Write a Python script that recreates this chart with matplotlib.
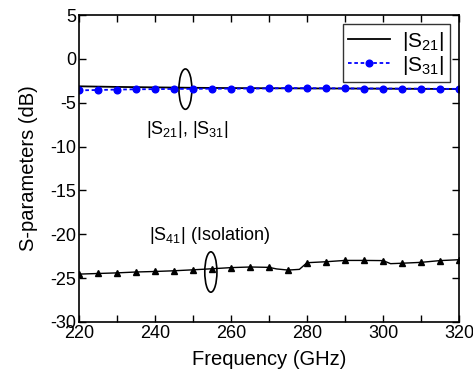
import matplotlib
matplotlib.use("Agg")
import matplotlib.pyplot as plt
from matplotlib.patches import Ellipse
from matplotlib.ticker import MultipleLocator

plt.rcParams['font.family'] = ['Liberation Sans', 'DejaVu Sans']
plt.rcParams['mathtext.default'] = 'regular'
plt.rcParams['axes.unicode_minus'] = False

freq_s21 = [220, 230, 240, 250, 260, 270, 280, 290, 300, 310, 320]
s21 = [-3.13, -3.2, -3.25, -3.3, -3.33, -3.35, -3.37, -3.38, -3.4, -3.42, -3.44]

freq_s31 = [220, 225, 230, 235, 240, 245, 250, 255, 260, 265, 270, 275, 280,
            285, 290, 295, 300, 305, 310, 315, 320]
s31 = [-3.59, -3.55, -3.5, -3.47, -3.45, -3.43, -3.42, -3.4, -3.4, -3.38, -3.37,
       -3.33, -3.35, -3.35, -3.37, -3.38, -3.38, -3.4, -3.4, -3.42, -3.42]

freq_s41 = [220, 225, 230, 235, 240, 245, 250, 255, 260, 265, 270, 272, 275,
            278, 280, 285, 290, 295, 300, 302, 305, 310, 315, 320]
s41 = [-24.54, -24.47, -24.4, -24.3, -24.24, -24.16, -24.05, -23.93, -23.8,
       -23.73, -23.77, -23.95, -24.08, -24.0, -23.24, -23.13, -22.98, -22.98,
       -23.0, -23.35, -23.3, -23.2, -23.0, -22.9]
s41_marker_freqs = list(range(220, 321, 5))

fig = plt.figure(figsize=(4.73, 3.83), dpi=100)
ax = fig.add_axes([79/473, 1 - 322/383, (459-79)/473, (322-15)/383])

ax.plot(freq_s21, s21, color='black', lw=1.3, label='|S$_{21}$|')
ax.plot(freq_s31, s31, color='blue', lw=1.3, ls=(0, (2, 1.5)), marker='o',
        ms=4.8, label='|S$_{31}$|')
mk = [i for i, f in enumerate(freq_s41) if f in s41_marker_freqs]
ax.plot(freq_s41, s41, color='black', lw=1.0, marker='^', ms=4.8, markevery=mk)

ax.add_patch(Ellipse((248, -3.45), 3.4, 4.6, fill=False, ec='black', lw=1.2))
ax.add_patch(Ellipse((254.7, -24.3), 3.2, 4.6, fill=False, ec='black', lw=1.2))

ax.text(248.4, -8.1, '|S$_{21}$|, |S$_{31}$|', ha='center', va='center', fontsize=13)
ax.text(254.3, -20.1, '|S$_{41}$| (Isolation)', ha='center', va='center', fontsize=13)

ax.set_xlim(220, 320)
ax.set_ylim(-30, 5)
ax.xaxis.set_major_locator(MultipleLocator(20))
ax.xaxis.set_minor_locator(MultipleLocator(10))
ax.yaxis.set_major_locator(MultipleLocator(5))
ax.tick_params(which='both', direction='in', top=True, right=True, labelsize=13, width=1)
ax.tick_params(which='major', length=5, pad=2)
ax.tick_params(which='minor', length=5)
for s in ax.spines.values():
    s.set_linewidth(1.2)

ax.set_xlabel('Frequency (GHz)', fontsize=14.5, labelpad=6)
ax.set_ylabel('S-parameters (dB)', fontsize=14.5, labelpad=9)

leg = ax.legend(loc='upper right', fontsize=15, frameon=True, fancybox=False,
                edgecolor='black', handlelength=2.0, borderpad=0.25,
                labelspacing=0.05, handletextpad=0.6, borderaxespad=0.45)
leg.get_frame().set_linewidth(1.0)

fig.savefig('out.png', dpi=100)
